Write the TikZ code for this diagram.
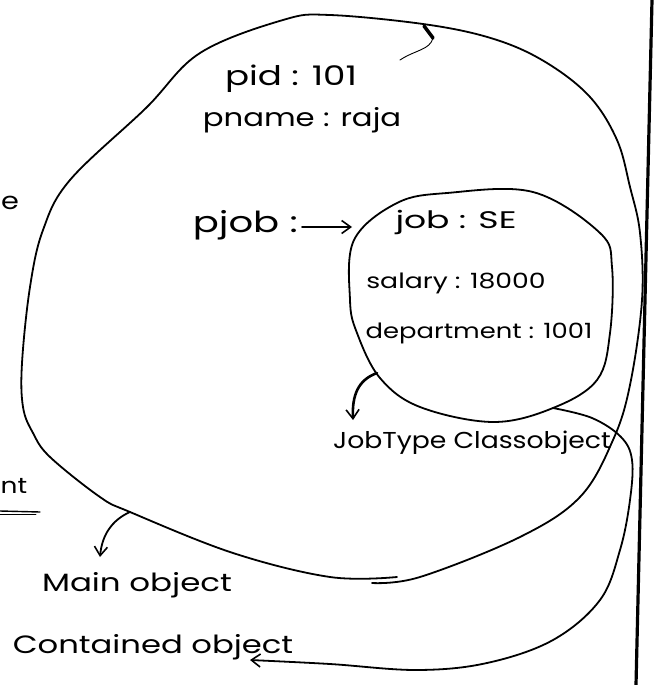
\documentclass[tikz,border=0pt]{standalone}
\usepackage{fontspec}
\setmainfont{Poppins}
\usetikzlibrary{arrows.meta}
\newcommand{\hwtext}[3]{\fontsize{#1}{#1}\selectfont\scalebox{#2}[1]{#3}}
\begin{document}
\begin{tikzpicture}[x=1pt,y=-1pt, line cap=round, line join=round,
  pen/.style={line width=1.8pt},
  hand/.style={inner sep=0pt, anchor=center},
  tip/.style={-{Straight Barb[length=9pt,width=13pt,line width=1.6pt]}}]
\useasboundingbox (0,0) rectangle (653,685);
\fill[white] (0,0) rectangle (653,685);

% main object outline
\draw[pen] plot[smooth, tension=0.6] coordinates {(372,583) (420,577) (520,537) (580,497) (613,440) (630,385) (642,300) (640,233) (630,187) (617,140) (590,97) (547,63) (497,40) (430,25) (330,15) (283,20) (200,53) (146,108) (70,180) (43,230) (30,287) (22,363) (23,407) (33,433) (50,457) (100,497) (130,512) (233,553) (330,577) (397,577)};
\coordinate (mainedge) at (130,512);
\draw[line width=3.5pt] (424,26) -- (433,38);
\draw[line width=0.9pt] (433,38) .. controls (430,50) and (415,50) .. (400,60);

% contained object outline
\draw[pen] plot[smooth cycle, tension=0.6] coordinates {(447,193) (533,192) (600,233) (612,267) (610,333) (597,380) (553,408) (493,422) (420,407) (380,378) (357,333) (350,300) (354,240) (397,203)};
\coordinate (innerbl) at (377,373);

% texts
\node[hand] (pid) at (291,79) {\hwtext{27}{1.32}{pid : 101}};
\node[hand] (pname) at (302,120) {\hwtext{25}{1.23}{pname : raja}};
\node[hand, anchor=east] (pjob) at (298,225) {\hwtext{29}{1.33}{pjob :}};
\node[hand] (job) at (456,222) {\hwtext{24}{1.44}{job : SE}};
\node[hand] (sal) at (456,283) {\hwtext{21}{1.27}{salary : 18000}};
\node[hand] (dep) at (479,333) {\hwtext{21}{1.23}{department : 1001}};
\node[hand] (jt) at (472,443) {\hwtext{23}{1.16}{JobType Classobject}};
\node[hand] (mo) at (137,585) {\hwtext{25}{1.3}{Main object}};
\node[hand] (co) at (153,647) {\hwtext{25}{1.29}{Contained object}};
\node[hand] (frag1) at (10,203) {\hwtext{24}{1.2}{e}};
\node[hand] (frag2) at (14,486) {\hwtext{22}{1.2}{nt}};

% arrows
\coordinate (pjobtip) at (352,227);
\coordinate (jttip) at (353,420);
\coordinate (motip) at (100,557);
\draw[pen, tip] (pjob.east) ++(4,2) -- (pjobtip);
\draw[line width=2.6pt, tip] (innerbl) .. controls (358,380) and (352,395) .. (jttip);
\draw[pen, tip] (mainedge) .. controls (112,520) and (102,535) .. (motip);
\draw[pen, tip] plot[smooth, tension=0.6] coordinates {(553,408) (592,418) (621,437) (632,460) (630,500) (620,550) (600,600) (553,640) (487,663) (417,670) (330,664) (250,660)};

% underline fragment and page edge
\draw[line width=1.4pt] (0,511) -- (40,512);
\draw[line width=0.9pt] (0,514) -- (36,514);
\draw[line width=3.2pt] (652,0) -- (636,685);
\end{tikzpicture}
\end{document}
